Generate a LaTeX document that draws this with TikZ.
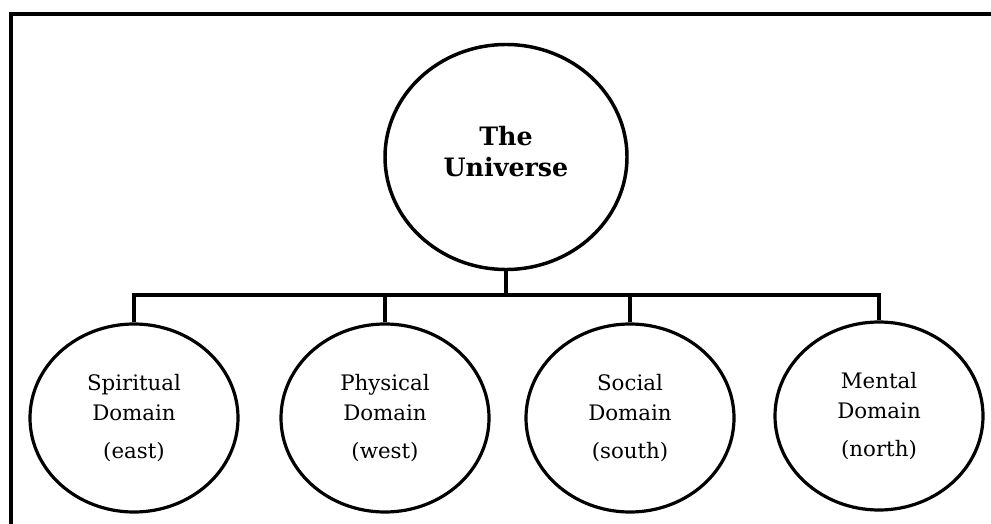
\documentclass[tikz,border=0pt]{standalone}
\usepackage{fontspec}
\setmainfont{DejaVu Serif}
\usepackage{tikz}
\usetikzlibrary{shapes.geometric}
\tikzset{
  topcirc/.style={draw, ellipse, line width=2.6pt, minimum width=242pt*0.75, minimum height=225pt*0.75, inner sep=0pt, align=center, font=\fontsize{19}{23.5}\selectfont\bfseries},
  subcirc/.style={draw, ellipse, line width=2.4pt, minimum width=208pt*0.75, minimum height=188pt*0.75, inner sep=0pt, align=center, font=\fontsize{16}{22.5}\selectfont},
  bar/.style={line width=2.4pt}
}
\begin{document}
\begin{tikzpicture}[x=0.75pt, y=-0.75pt]
\useasboundingbox (0,0) rectangle (991,524);
\draw[line width=2.3pt] (991,14) -- (11,14) -- (11,524);
\node[topcirc] (u) at (506,157) {The\\Universe\\[-15pt]};
\node[subcirc] (spir) at (134,418) {Spiritual\\Domain\\[6.5pt](east)};
\node[subcirc] (phys) at (385,418) {Physical\\Domain\\[6.5pt](west)};
\node[subcirc] (soc) at (630,418) {Social\\Domain\\[6.5pt](south)};
\node[subcirc] (ment) at (879,416) {Mental\\Domain\\[6.5pt](north)};
\coordinate (bar) at (506,295);
\draw[bar] (u.south) -- (bar);
\draw[bar] (spir.north) -- (spir.north |- bar) -- (ment.north |- bar) -- (ment.north);
\draw[bar] (phys.north) -- (phys.north |- bar);
\draw[bar] (soc.north) -- (soc.north |- bar);
\end{tikzpicture}
\end{document}
